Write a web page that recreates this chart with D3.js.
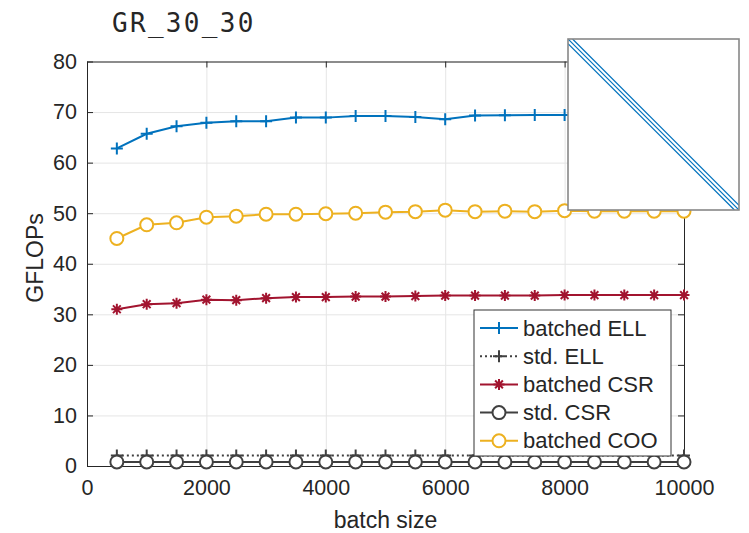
<!DOCTYPE html>
<html>
<head>
<meta charset="utf-8">
<script src="https://cdn.jsdelivr.net/npm/d3@7"></script>
<style>
  body { margin: 0; background: #fff; }
  text { font-family: "Liberation Sans", Arial, sans-serif; fill: #262626; }
</style>
</head>
<body>
<div id="chart"></div>
<script>
// GR_30_30 batched SpMV throughput

////////////////////////////////////////////////////////////////////////////////
// Data
const batchSizes = [500, 1000, 1500, 2000, 2500, 3000, 3500, 4000, 4500, 5000,
  5500, 6000, 6500, 7000, 7500, 8000, 8500, 9000, 9500, 10000];
const batchedELL = [62.8, 65.7, 67.2, 67.9, 68.2, 68.2, 68.9, 68.9, 69.2, 69.2,
  69.0, 68.6, 69.3, 69.35, 69.4, 69.4, 69.4, 69.4, 69.4, 69.4];
const stdELL = [2.1, 2.1, 2.1, 2.1, 2.1, 2.1, 2.1, 2.1, 2.1, 2.1,
  2.1, 2.1, 2.1, 2.1, 2.1, 2.1, 2.1, 2.1, 2.1, 2.1];
const batchedCSR = [31.0, 32.0, 32.2, 32.9, 32.8, 33.2, 33.4, 33.4, 33.5, 33.5,
  33.6, 33.7, 33.7, 33.7, 33.7, 33.8, 33.8, 33.8, 33.8, 33.8];
const stdCSR = [0.8, 0.8, 0.8, 0.8, 0.8, 0.8, 0.8, 0.8, 0.8, 0.8,
  0.8, 0.8, 0.8, 0.8, 0.8, 0.8, 0.8, 0.8, 0.8, 0.8];
const batchedCOO = [45.0, 47.7, 48.1, 49.2, 49.4, 49.8, 49.8, 49.9, 50.0, 50.2,
  50.3, 50.6, 50.3, 50.4, 50.3, 50.5, 50.4, 50.4, 50.4, 50.4];

const seriesNames = ['batched ELL', 'std. ELL', 'batched CSR', 'std. CSR', 'batched COO'];
const xTicks = [0, 2000, 4000, 6000, 8000, 10000];
const yTicks = [0, 10, 20, 30, 40, 50, 60, 70, 80];

// sparsity pattern in the inset: matrix size and the diagonals that are stored
const spySize = 900;
const spyDiagonals = [-24, 0, 24];

////////////////////////////////////////////////////////////////////////////////
// Setup
const width = 749, height = 533;
const plot = { left: 87, right: 684, top: 61.5, bottom: 466 };

const x = d3.scaleLinear().domain([0, 10000]).range([plot.left, plot.right]);
const y = d3.scaleLinear().domain([0, 80]).range([plot.bottom, plot.top]);

const svg = d3.select('#chart').append('svg')
  .attr('width', width)
  .attr('height', height);

// grid
svg.append('g')
  .call(d3.axisBottom(x).tickValues(xTicks).tickSize(-(plot.bottom - plot.top)).tickFormat(''))
  .attr('transform', `translate(0,${plot.bottom})`)
  .call(g => g.select('.domain').remove())
  .call(g => g.selectAll('line').attr('stroke', '#e5e5e5'));
svg.append('g')
  .call(d3.axisLeft(y).tickValues(yTicks).tickSize(-(plot.right - plot.left)).tickFormat(''))
  .attr('transform', `translate(${plot.left},0)`)
  .call(g => g.select('.domain').remove())
  .call(g => g.selectAll('line').attr('stroke', '#e5e5e5'));

// axes (box on, ticks inward on all four sides)
const axisColor = '#262626';
function styleAxis (g) {
  g.select('.domain').attr('stroke', axisColor);
  g.selectAll('.tick line').attr('stroke', axisColor);
}
function styleLabels (g) {
  g.selectAll('text')
    .attr('font-size', 21.5)
    .attr('font-family', '"Liberation Sans", Arial, sans-serif')
    .attr('fill', axisColor);
}
svg.append('g')
  .attr('transform', `translate(0,${plot.bottom})`)
  .call(d3.axisBottom(x).tickValues(xTicks).tickFormat(d3.format('d'))
    .tickSizeInner(-6).tickSizeOuter(0).tickPadding(14))
  .call(styleAxis)
  .call(styleLabels);
svg.append('g')
  .attr('transform', `translate(0,${plot.top})`)
  .call(d3.axisTop(x).tickValues(xTicks).tickSizeInner(-6).tickSizeOuter(0).tickFormat(''))
  .call(styleAxis);
svg.append('g')
  .attr('transform', `translate(${plot.left},0)`)
  .call(d3.axisLeft(y).tickValues(yTicks).tickSizeInner(-6).tickSizeOuter(0).tickPadding(10))
  .call(styleAxis)
  .call(styleLabels);
svg.append('g')
  .attr('transform', `translate(${plot.right},0)`)
  .call(d3.axisRight(y).tickValues(yTicks).tickSizeInner(-6).tickSizeOuter(0).tickFormat(''))
  .call(styleAxis);

// labels
svg.append('text')
  .attr('x', (plot.left + plot.right) / 2)
  .attr('y', 528)
  .attr('text-anchor', 'middle')
  .attr('font-size', 23)
  .text('batch size');
svg.append('text')
  .attr('transform', `translate(43,258) rotate(-90)`)
  .attr('text-anchor', 'middle')
  .attr('font-size', 23)
  .text('GFLOPs');
svg.append('text')
  .attr('x', 112)
  .attr('y', 32)
  .attr('font-size', 26)
  .attr('letter-spacing', 2.3)
  .style('font-family', '"DejaVu Sans Mono", monospace')
  .attr('fill', '#111')
  .text('GR_30_30');

////////////////////////////////////////////////////////////////////////////////
// Series
const series = [
  { name: seriesNames[0], values: batchedELL, color: '#0072BD', marker: 'plus', dash: null },
  { name: seriesNames[1], values: stdELL, color: '#404040', marker: 'plus', dash: '2,3' },
  { name: seriesNames[2], values: batchedCSR, color: '#A2142F', marker: 'star', dash: null },
  { name: seriesNames[3], values: stdCSR, color: '#404040', marker: 'circle', dash: null },
  { name: seriesNames[4], values: batchedCOO, color: '#EDB120', marker: 'circle', dash: null },
];

function drawMarker (g, type, color) {
  if (type === 'circle') {
    g.append('circle').attr('r', 6.5).attr('fill', '#fff').attr('stroke', color).attr('stroke-width', 2);
  } else if (type === 'plus') {
    g.append('path').attr('d', 'M-6,0H6M0,-6V6').attr('stroke', color).attr('stroke-width', 2);
  } else if (type === 'star') {
    const r = 5.5, d = r * Math.SQRT1_2;
    g.append('path')
      .attr('d', `M${-r},0H${r}M0,${-r}V${r}M${-d},${-d}L${d},${d}M${-d},${d}L${d},${-d}`)
      .attr('stroke', color).attr('stroke-width', 2);
  }
}

const line = d3.line()
  .x((d, i) => x(batchSizes[i]))
  .y(d => y(d));

const lines = svg.append('g').attr('class', 'series');
series.forEach(s => {
  const g = lines.append('g');
  g.append('path')
    .attr('d', line(s.values))
    .attr('fill', 'none')
    .attr('stroke', s.color)
    .attr('stroke-width', 2)
    .attr('stroke-dasharray', s.dash);
  g.selectAll('.marker')
    .data(s.values)
    .enter()
      .append('g')
      .attr('class', 'marker')
      .attr('transform', (d, i) => `translate(${x(batchSizes[i])},${y(d)})`)
      .each(function () { drawMarker(d3.select(this), s.marker, s.color); });
});

////////////////////////////////////////////////////////////////////////////////
// Legend
const legend = svg.append('g').attr('transform', 'translate(474,310)');
legend.append('rect')
  .attr('width', 197).attr('height', 146)
  .attr('fill', '#fff').attr('stroke', '#333').attr('stroke-width', 1);
series.forEach((s, i) => {
  const row = legend.append('g').attr('transform', `translate(0,${18 + i * 28.2})`);
  row.append('line')
    .attr('x1', 6).attr('x2', 44)
    .attr('stroke', s.color).attr('stroke-width', 2)
    .attr('stroke-dasharray', s.dash);
  drawMarker(row.append('g').attr('transform', 'translate(25,0)'), s.marker, s.color);
  row.append('text')
    .attr('x', 49).attr('y', 7.5)
    .attr('font-size', 22)
    .attr('fill', '#000')
    .text(s.name);
});

////////////////////////////////////////////////////////////////////////////////
// Inset: sparsity pattern
const inset = { left: 568, top: 39, size: 171 };
const spy = d3.scaleLinear().domain([0, spySize]).range([0, inset.size]);
const insetG = svg.append('g').attr('transform', `translate(${inset.left},${inset.top})`);
insetG.append('clipPath').attr('id', 'spyclip')
  .append('rect').attr('width', inset.size).attr('height', inset.size);
insetG.append('rect')
  .attr('width', inset.size).attr('height', inset.size)
  .attr('fill', '#fff');
insetG.append('g')
  .attr('clip-path', 'url(#spyclip)')
  .selectAll('line')
  .data(spyDiagonals)
  .enter()
    .append('line')
    .attr('x1', d => spy(Math.max(0, d)))
    .attr('y1', d => spy(Math.max(0, -d)))
    .attr('x2', d => spy(spySize + Math.min(0, d)))
    .attr('y2', d => spy(spySize - Math.max(0, d)))
    .attr('stroke', '#0072BD')
    .attr('stroke-width', 1.2);
insetG.append('rect')
  .attr('width', inset.size).attr('height', inset.size)
  .attr('fill', 'none')
  .attr('stroke', '#888').attr('stroke-width', 1.6);
</script>
</body>
</html>
